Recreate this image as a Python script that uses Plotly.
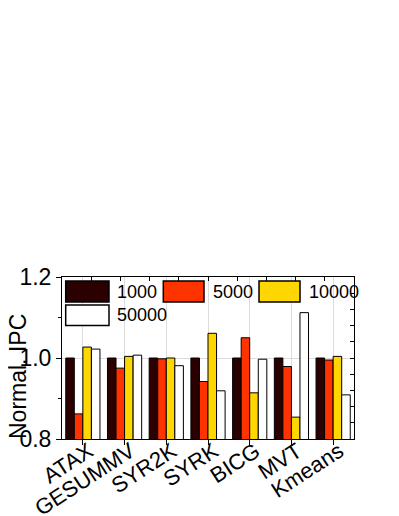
import plotly.graph_objects as go

categories = ["ATAX", "GESUMMV", "SYR2K", "SYRK", "BICG", "MVT", "Kmeans"]
series_names = ["1000", "5000", "10000", "50000"]
s1000 = [1.0, 1.0, 1.0, 1.0, 1.0, 1.0, 1.0]
s5000 = [0.862, 0.975, 0.998, 0.942, 1.050, 0.979, 0.995]
s10000 = [1.027, 1.004, 1.0, 1.061, 0.914, 0.854, 1.004]
s50000 = [1.022, 1.007, 0.981, 0.919, 0.997, 1.112, 0.909]
series_values = [s1000, s5000, s10000, s50000]
colors = ["#2b0000", "#ff3300", "#ffd700", "#ffffff"]
y_ticks = [0.8, 1.0, 1.2]
y_ticklabels = ["0.8", "1.0", "1.2"]

PAGE_W, PAGE_H = 399, 516
OFF = 8  # default page body margin
W, H = PAGE_W - OFF, PAGE_H - OFF
# plot area in page pixels
L, R, T, B = 62, 354, 277, 439
FONT = "Arial, Liberation Sans, sans-serif"

fig = go.Figure()
for name, vals, col in zip(series_names, series_values, colors):
    fig.add_trace(go.Bar(x=categories, y=vals, name=name,
                         marker=dict(color=col, line=dict(color="black", width=1)),
                         showlegend=False))
# helper trace to render top/right decorative axes
fig.add_trace(go.Scatter(x=[], y=[], xaxis="x2", yaxis="y2", showlegend=False))

def px(x):
    return (x - L) / (R - L)

def py(y):
    return (B - y) / (B - T)

shapes = []
annotations = []
# manual legend (large swatches)
legend_pos = [(65.7, 281, 109, 302, 115, 291.5),
              (163.3, 281, 204, 302, 210.5, 291.5),
              (259, 281, 300, 302, 306.5, 291.5),
              (65.7, 305, 109, 325.5, 115, 315)]
for name, col, (x0, y0, x1, y1, tx, ty) in zip(series_names, colors, legend_pos):
    shapes.append(dict(type="rect", xref="paper", yref="paper",
                       x0=px(x0), x1=px(x1), y0=py(y1), y1=py(y0),
                       fillcolor=col, line=dict(color="black", width=1.5), layer="above"))
    annotations.append(dict(text=name, xref="paper", yref="paper", x=px(tx), y=py(ty),
                            xanchor="left", yanchor="middle", showarrow=False,
                            font=dict(family=FONT, size=18, color="black")))

annotations.append(dict(text="Normal. IPC", xref="paper", yref="paper",
                        x=px(18), y=py(377), xanchor="center", yanchor="middle",
                        textangle=-90, showarrow=False,
                        font=dict(family=FONT, size=23, color="black")))

fig.update_layout(
    width=W, height=H,
    margin=dict(l=L - OFF, r=PAGE_W - R, t=T - OFF, b=PAGE_H - B, pad=0, autoexpand=False),
    paper_bgcolor="white", plot_bgcolor="white",
    barmode="group", bargap=0.18, bargroupgap=0,
    font=dict(family=FONT, color="black"),
    shapes=shapes, annotations=annotations,
    xaxis=dict(type="category", showline=True, linecolor="black", linewidth=1,
               ticks="outside", ticklen=5, tickcolor="black", automargin=False,
               showgrid=True, gridcolor="#dcdcdc", gridwidth=1,
               tickangle=-33, tickfont=dict(family=FONT, size=22, color="black"),
               ticklabelstandoff=-15, ticklabelshift=6,
               range=[-0.5, len(categories) - 0.5]),
    yaxis=dict(range=[0.8, 1.2], tickvals=y_ticks, ticktext=y_ticklabels,
               showline=True, linecolor="black", linewidth=1, automargin=False,
               ticks="outside", ticklen=5, tickcolor="black",
               showgrid=True, gridcolor="#dcdcdc", gridwidth=1, zeroline=False,
               minor=dict(dtick=0.1, tick0=0.8, ticks="outside", ticklen=3,
                          tickcolor="black", showgrid=False),
               tickfont=dict(family=FONT, size=23, color="black")),
    xaxis2=dict(overlaying="x", side="top", range=[0, 10], dtick=1, tick0=0,
                showline=True, linecolor="black", linewidth=1, automargin=False,
                ticks="inside", ticklen=4, tickcolor="black",
                showticklabels=False, showgrid=False, zeroline=False),
    yaxis2=dict(overlaying="y", side="right", range=[0.8, 1.2], dtick=0.04, tick0=0.8,
                showline=True, linecolor="black", linewidth=1, automargin=False,
                ticks="inside", ticklen=4, tickcolor="black",
                showticklabels=False, showgrid=False, zeroline=False),
)

fig.write_html("out.html")
